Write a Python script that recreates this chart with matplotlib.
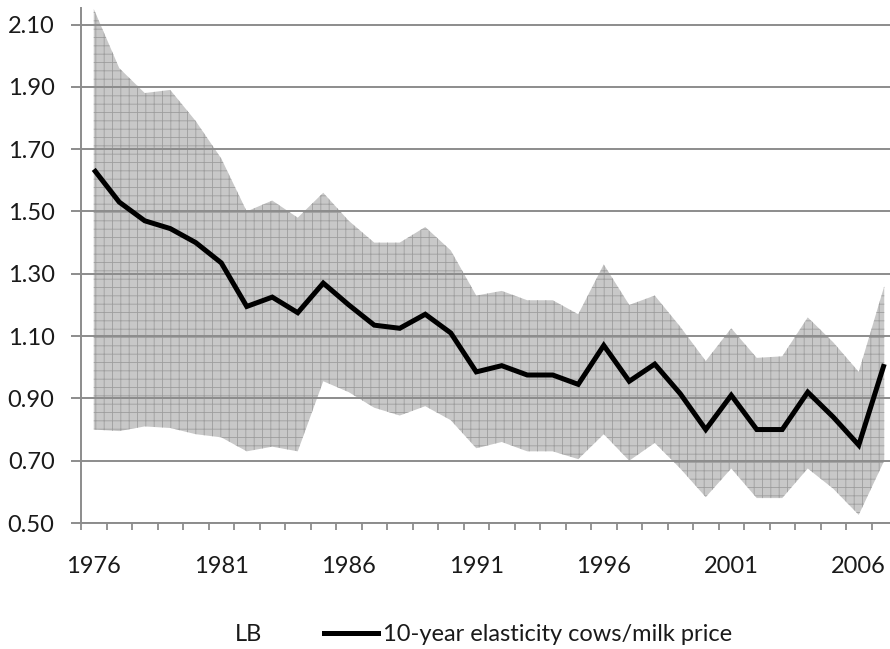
import numpy as np
import matplotlib
matplotlib.use("Agg")
import matplotlib.pyplot as plt
from matplotlib.lines import Line2D
from matplotlib.patches import Patch

# ── data ──────────────────────────────────────
years = list(range(1976, 2008))

elasticity = [1.635, 1.53, 1.47, 1.445, 1.40, 1.335, 1.195, 1.225, 1.175, 1.27,
              1.20, 1.135, 1.125, 1.17, 1.11, 0.985, 1.005, 0.975, 0.975, 0.945,
              1.07, 0.955, 1.01, 0.915, 0.80, 0.91, 0.80, 0.80, 0.92, 0.84,
              0.75, 1.01]

upper = [2.15, 1.96, 1.88, 1.89, 1.79, 1.67, 1.50, 1.535, 1.48, 1.56,
         1.47, 1.40, 1.40, 1.45, 1.375, 1.23, 1.245, 1.215, 1.215, 1.17,
         1.33, 1.20, 1.23, 1.13, 1.02, 1.125, 1.03, 1.035, 1.16, 1.08,
         0.985, 1.26]

lower = [0.80, 0.795, 0.81, 0.805, 0.785, 0.775, 0.73, 0.745, 0.73, 0.955,
         0.92, 0.87, 0.845, 0.875, 0.83, 0.74, 0.76, 0.73, 0.73, 0.705,
         0.785, 0.70, 0.757, 0.675, 0.583, 0.675, 0.58, 0.58, 0.675, 0.61,
         0.526, 0.70]

y_ticks = [0.50, 0.70, 0.90, 1.10, 1.30, 1.50, 1.70, 1.90, 2.10]
x_label_years = [1976, 1981, 1986, 1991, 1996, 2001, 2006]

line_label = "10-year elasticity cows/milk price"
lb_label = "LB"

# ── style ─────────────────────────────────────
C_GRID = "#8c8c8c"
C_TEXT = "#1a1a1a"
FS = 17
plt.rcParams["font.family"] = ["Lato", "DejaVu Sans"]
plt.rcParams["hatch.linewidth"] = 0.6

fig = plt.figure(figsize=(8.9, 6.49), dpi=100)
ax = fig.add_axes([81 / 890, 126 / 649, 816 / 890, 515 / 649])

x = np.arange(len(years))

# band between LB and UB (Excel stacked area look)
ax.fill_between(x, lower, upper, facecolor="#c8c8c8", edgecolor="#9e9e9e",
                hatch="++", linewidth=0, zorder=1)
ax.plot(x, elasticity, color="black", lw=3.6, solid_joinstyle="miter",
        solid_capstyle="butt", zorder=3)

ax.set_xlim(-0.5, len(years) - 0.5)
ax.set_ylim(0.5, 2.153)

ax.set_yticks(y_ticks)
ax.set_yticklabels([f"{v:.2f}" for v in y_ticks])
ax.grid(axis="y", color=C_GRID, lw=1.4)
ax.set_axisbelow("line")

ax.set_xticks([years.index(yr) for yr in x_label_years])
ax.set_xticklabels([str(yr) for yr in x_label_years])
ax.set_xticks(np.arange(len(years) + 1) - 0.5, minor=True)

ax.tick_params(axis="x", which="major", length=0, pad=24, labelsize=FS,
               labelcolor=C_TEXT)
ax.tick_params(axis="x", which="minor", length=5, width=1.3, color=C_GRID,
               direction="out")
ax.tick_params(axis="y", length=7, width=1.4, color=C_GRID, pad=12,
               labelsize=FS, labelcolor=C_TEXT)

for side in ("top", "right"):
    ax.spines[side].set_visible(False)
for side in ("left", "bottom"):
    ax.spines[side].set_color(C_GRID)
    ax.spines[side].set_linewidth(1.4)

handles = [Patch(facecolor="white", edgecolor="none"),
           Line2D([], [], color="black", lw=3.6)]
fig.legend(handles, [lb_label, line_label], loc="center",
           bbox_to_anchor=(0.51, 0.022), ncol=2, frameon=False,
           fontsize=FS, handlelength=2.3, handletextpad=0.2,
           columnspacing=2.6, labelcolor=C_TEXT, borderpad=0)

fig.savefig("out.png", dpi=100, facecolor="white")
